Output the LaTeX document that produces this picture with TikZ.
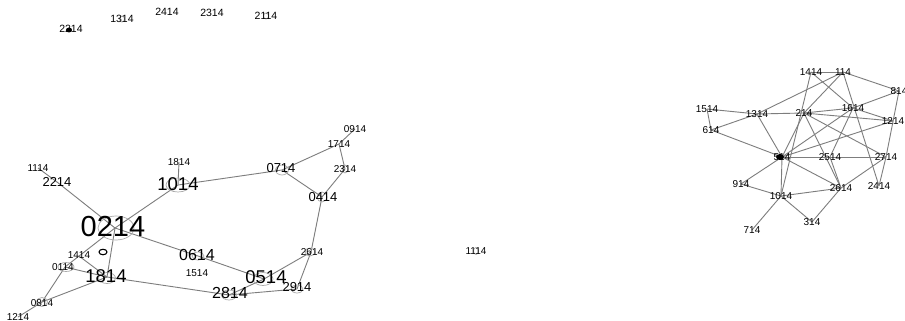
\documentclass[tikz,border=0pt]{standalone}
\usepackage{fontspec}
\setmainfont{Liberation Sans}
\usetikzlibrary{shapes.geometric}
\definecolor{edgegray}{RGB}{125,125,125}
\definecolor{ringgray}{RGB}{170,170,170}
\begin{document}
\begin{tikzpicture}[x=1pt,y=-1pt,
  edge/.style={draw=edgegray,line width=0.9pt},
  ring/.style={ellipse,draw=ringgray,line width=0.7pt,inner sep=0pt},
  blackdot/.style={ellipse,fill=black,inner sep=0pt},
  lbl/.style={inner sep=0pt,text=black},
  fs/.style={lbl,font=\fontsize{10}{10}\selectfont},
  fsm/.style={lbl,font=\fontsize{10.5}{10.5}\selectfont},
  fm/.style={lbl,font=\fontsize{13}{13}\selectfont},
  fl/.style={lbl,font=\fontsize{16}{16}\selectfont},
  fx/.style={lbl,font=\fontsize{18.5}{18.5}\selectfont},
  fh/.style={lbl,font=\fontsize{29}{29}\selectfont}]
\useasboundingbox (0,0) rectangle (905,321);
\fill[white] (0,0) rectangle (905,321);

% ---------- top row (isolated) ----------
\coordinate (a2214) at (71,29);
\coordinate (a1314) at (122,19);
\coordinate (a2414) at (167,12);
\coordinate (a2314) at (212,13);
\coordinate (a2114) at (266,16);
\node[ring,minimum width=5pt,minimum height=6pt] (ea1314) at (a1314) {};
\node[ring,minimum width=5pt,minimum height=6pt] (ea2114) at (a2114) {};
\node[blackdot,minimum width=6pt,minimum height=5pt] (ea2214) at (69,30) {};
\node[fsm] (ta2214) at (a2214) {2214};
\node[fsm] (ta1314) at (a1314) {1314};
\node[fsm] (ta2414) at (a2414) {2414};
\node[fsm] (ta2314) at (a2314) {2314};
\node[fsm] (ta2114) at (a2114) {2114};

% ---------- left cluster ----------
\coordinate (c0214) at (115,228);
\coordinate (c1014) at (178,185);
\coordinate (c1814t) at (179,162);
\coordinate (c2214) at (57,182);
\coordinate (c1114) at (38,168);
\coordinate (c1414) at (79,256);
\coordinate (c0114) at (65,267);
\coordinate (c1814) at (107,277);
\coordinate (c0814) at (42,302);
\coordinate (c1214) at (18,317);
\coordinate (c0614) at (198,256);
\coordinate (c1514) at (197,273);
\coordinate (c0514) at (264,279);
\coordinate (c2814) at (229,295);
\coordinate (c2914) at (297,289);
\coordinate (c2614) at (311,252);
\coordinate (c0414) at (322,197);
\coordinate (c0714) at (282,170);
\coordinate (c2314) at (345,169);
\coordinate (c1714) at (339,144);
\coordinate (c0914) at (355,129);
\coordinate (cm1114) at (476,251);

\draw[edge] (c1114) -- (c2214);
\draw[edge] (c2214) -- (c0214);
\draw[edge] (c1814t) -- (c1014);
\draw[edge] (c1014) -- (c0214);
\draw[edge] (c1014) -- (c0714);
\draw[edge] (c0714) -- (c1714);
\draw[edge] (c1714) -- (c0914);
\draw[edge] (c1714) -- (c2314);
\draw[edge] (c2314) -- (c0414);
\draw[edge] (c0714) -- (c0414);
\draw[edge] (c0414) -- (c2614);
\draw[edge] (c2614) -- (c0514);
\draw[edge] (c2614) -- (c2914);
\draw[edge] (c0514) -- (c2814);
\draw[edge] (c2914) -- (c2814);
\draw[edge] (c0214) -- (c0614);
\draw[edge] (c0614) -- (c0514);
\draw[edge] (c0214) -- (c0114);
\draw[edge] (c0214) -- (c1814);
\draw[edge] (c1414) -- (c1814);
\draw[edge] (c0114) -- (c1814);
\draw[edge] (c0114) -- (c0814);
\draw[edge] (c0814) -- (c1814);
\draw[edge] (c0814) -- (c1214);
\draw[edge] (c1814) -- (c2814);

\node[ring,minimum width=36pt,minimum height=24pt] (e0214) at (116,228) {};
\node[ring,minimum width=24pt,minimum height=14pt] (e1014) at (178,185) {};
\node[ring,minimum width=17pt,minimum height=11pt] (e1814) at (107,278) {};
\node[ring,minimum width=20pt,minimum height=13pt] (e0514) at (263,279) {};
\node[ring,minimum width=15pt,minimum height=10pt] (e2814) at (229,295) {};
\node[ring,minimum width=12pt,minimum height=8pt] (e2914) at (297,289) {};
\node[ring,minimum width=13pt,minimum height=10pt] (e0714) at (282,170) {};
\node[ring,minimum width=12pt,minimum height=8pt] (e0614) at (198,256) {};
\node[ring,minimum width=10pt,minimum height=8pt] (e2614) at (310,252) {};
\node[ring,minimum width=10pt,minimum height=10pt] (e0414) at (322,197) {};
\node[ring,minimum width=16pt,minimum height=9pt] (e0114) at (66,267) {};
\node[ring,minimum width=11pt,minimum height=9pt] (e0814) at (42,302) {};
\node[ring,minimum width=6pt,minimum height=8pt] (e2314) at (345,169) {};
\node[ring,minimum width=5pt,minimum height=7pt] (em1114) at (cm1114) {};
\node[ellipse,draw=black,line width=1.1pt,inner sep=0pt,minimum width=8pt,minimum height=5.5pt] (eoval) at (103,252) {};

\node[fh] (t0214) at (113,227) {0214};
\node[fx] (t1014) at (178,184) {1014};
\node[fs] (t1814t) at (179,162) {1814};
\node[fm] (t2214) at (57,182) {2214};
\node[fs] (t1114) at (38,168) {1114};
\node[fs] (t1414) at (79,255) {1414};
\node[fs] (t0114) at (63,267) {0114};
\node[fx] (t1814) at (106,276) {1814};
\node[fs] (t0814) at (42,303) {0814};
\node[fs] (t1214) at (18,317) {1214};
\node[fl] (t0614) at (197,255) {0614};
\node[fs] (t1514) at (197,273) {1514};
\node[fx] (t0514) at (266,277) {0514};
\node[fl] (t2814) at (230,293) {2814};
\node[fm] (t2914) at (297,287) {2914};
\node[fs] (t2614) at (312,252) {2614};
\node[fm] (t0414) at (323,197) {0414};
\node[fm] (t0714) at (281,168) {0714};
\node[fs] (t2314) at (345,169) {2314};
\node[fs] (t1714) at (339,144) {1714};
\node[fs] (t0914) at (355,129) {0914};
\node[fs] (tm1114) at (cm1114) {1114};

% ---------- right cluster ----------
\coordinate (r1414) at (811,72);
\coordinate (r114) at (843,72);
\coordinate (r814) at (899,91);
\coordinate (r1514) at (707,109);
\coordinate (r1314) at (757,114);
\coordinate (r214) at (804,113);
\coordinate (r1614) at (853,108);
\coordinate (r1214) at (893,121);
\coordinate (r614) at (711,130);
\coordinate (r514) at (782,157);
\coordinate (r2514) at (830,157);
\coordinate (r2714) at (886,157);
\coordinate (r914) at (741,184);
\coordinate (r2414) at (879,186);
\coordinate (r2614) at (841,188);
\coordinate (r1014) at (781,196);
\coordinate (r314) at (812,222);
\coordinate (r714) at (752,230);

\draw[edge] (r1514) -- (r1314);
\draw[edge] (r1514) -- (r614);
\draw[edge] (r614) -- (r1314);
\draw[edge] (r614) -- (r514);
\draw[edge] (r1314) -- (r214);
\draw[edge] (r1314) -- (r114);
\draw[edge] (r1314) -- (r514);
\draw[edge] (r1414) -- (r114);
\draw[edge] (r1414) -- (r1614);
\draw[edge] (r1414) -- (r1014);
\draw[edge] (r114) -- (r214);
\draw[edge] (r114) -- (r814);
\draw[edge] (r114) -- (r2414);
\draw[edge] (r214) -- (r1614);
\draw[edge] (r214) -- (r1214);
\draw[edge] (r214) -- (r514);
\draw[edge] (r214) -- (r2614);
\draw[edge] (r214) -- (r2714);
\draw[edge] (r1614) -- (r814);
\draw[edge] (r1614) -- (r1214);
\draw[edge] (r1614) -- (r514);
\draw[edge] (r1614) -- (r2514);
\draw[edge] (r814) -- (r2714);
\draw[edge] (r1214) -- (r514);
\draw[edge] (r2714) -- (r2414);
\draw[edge] (r514) -- (r2514);
\draw[edge] (r2514) -- (r2714);
\draw[edge] (r2514) -- (r2614);
\draw[edge] (r514) -- (r2614);
\draw[edge] (r514) -- (r914);
\draw[edge] (r514) -- (r1014);
\draw[edge] (r914) -- (r1014);
\draw[edge] (r1014) -- (r2614);
\draw[edge] (r1014) -- (r714);
\draw[edge] (r1014) -- (r314);
\draw[edge] (r314) -- (r2614);
\draw[edge] (r2614) -- (r2714);

\node[blackdot,minimum width=8pt,minimum height=6pt] (er514) at (780,157) {};

\node[fs] (tr1414) at (r1414) {1414};
\node[fs] (tr114) at (r114) {114};
\node[fs] (tr814) at (r814) {814};
\node[fs] (tr1514) at (r1514) {1514};
\node[fs] (tr1314) at (r1314) {1314};
\node[fs] (tr214) at (r214) {214};
\node[fs] (tr1614) at (r1614) {1614};
\node[fs] (tr1214) at (r1214) {1214};
\node[fs] (tr614) at (r614) {614};
\node[fs] (tr514) at (r514) {514};
\node[fs] (tr2514) at (r2514) {2514};
\node[fs] (tr2714) at (r2714) {2714};
\node[fs] (tr914) at (r914) {914};
\node[fs] (tr2414) at (r2414) {2414};
\node[fs] (tr2614) at (r2614) {2614};
\node[fs] (tr1014) at (r1014) {1014};
\node[fs] (tr314) at (r314) {314};
\node[fs] (tr714) at (r714) {714};
\end{tikzpicture}
\end{document}
